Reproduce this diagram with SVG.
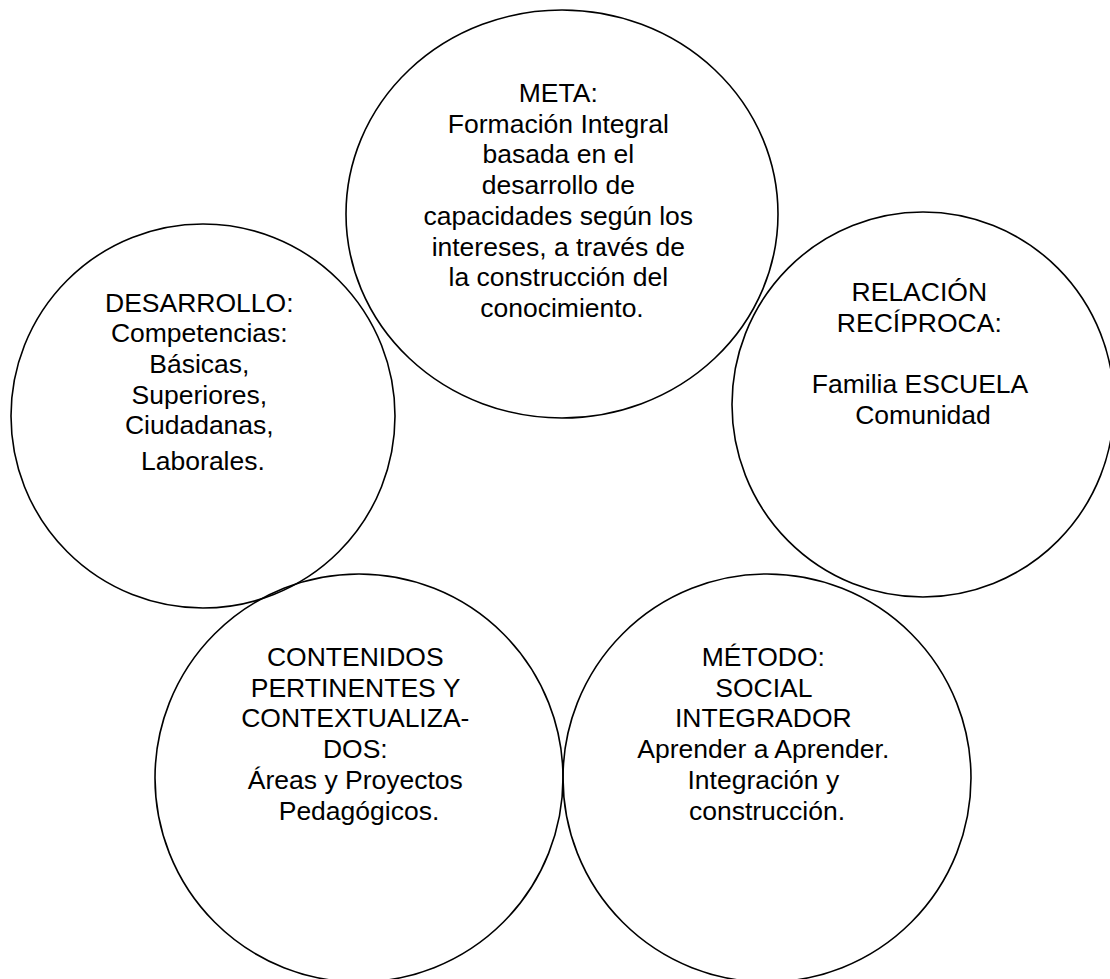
<svg xmlns="http://www.w3.org/2000/svg" width="1110" height="979" viewBox="0 0 1110 979">
<style>
.c{fill:none;stroke:#000;stroke-width:1.6}
.t{font-family:"Liberation Sans",Arial,sans-serif;font-size:26.5px;fill:#000;text-anchor:middle}
</style>
<rect width="1110" height="979" fill="#fff"/>
<g id="connectors"></g>
<g id="meta">
<ellipse class="c" cx="562" cy="214" rx="216" ry="204"/>
<text class="t">
<tspan x="562" y="102">META:</tspan>
<tspan x="562" y="132.7">Formación Integral</tspan>
<tspan x="562" y="163.4">basada en el</tspan>
<tspan x="562" y="194.1">desarrollo de</tspan>
<tspan x="562" y="224.8">capacidades según los</tspan>
<tspan x="562" y="255.5">intereses, a través de</tspan>
<tspan x="562" y="286.2">la construcción del</tspan>
<tspan x="562" y="316.9">conocimiento.</tspan>
</text>
</g>
<g id="desarrollo">
<ellipse class="c" cx="203" cy="416" rx="192" ry="192"/>
<text class="t">
<tspan x="203" y="311.5">DESARROLLO:</tspan>
<tspan x="203" y="342.2">Competencias:</tspan>
<tspan x="203" y="372.9">Básicas,</tspan>
<tspan x="203" y="403.6">Superiores,</tspan>
<tspan x="203" y="434.3">Ciudadanas,</tspan>
<tspan x="203" y="469.5">Laborales.</tspan>
</text>
</g>
<g id="relacion">
<ellipse class="c" cx="923" cy="404.5" rx="191" ry="192.5"/>
<text class="t">
<tspan x="923" y="301">RELACIÓN</tspan>
<tspan x="923" y="331.7">RECÍPROCA:</tspan>
<tspan x="923" y="393.1">Familia ESCUELA</tspan>
<tspan x="923" y="423.8">Comunidad</tspan>
</text>
</g>
<g id="contenidos">
<ellipse class="c" cx="359" cy="778" rx="204" ry="204"/>
<text class="t">
<tspan x="359" y="666">CONTENIDOS</tspan>
<tspan x="359" y="696.7">PERTINENTES Y</tspan>
<tspan x="359" y="727.4">CONTEXTUALIZA-</tspan>
<tspan x="359" y="758.1">DOS:</tspan>
<tspan x="359" y="788.8">Áreas y Proyectos</tspan>
<tspan x="359" y="819.5">Pedagógicos.</tspan>
</text>
</g>
<g id="metodo">
<ellipse class="c" cx="767" cy="778" rx="204" ry="204"/>
<text class="t">
<tspan x="767" y="666">MÉTODO:</tspan>
<tspan x="767" y="696.7">SOCIAL</tspan>
<tspan x="767" y="727.4">INTEGRADOR</tspan>
<tspan x="767" y="758.1">Aprender a Aprender.</tspan>
<tspan x="767" y="788.8">Integración y</tspan>
<tspan x="767" y="819.5">construcción.</tspan>
</text>
</g>
</svg>
